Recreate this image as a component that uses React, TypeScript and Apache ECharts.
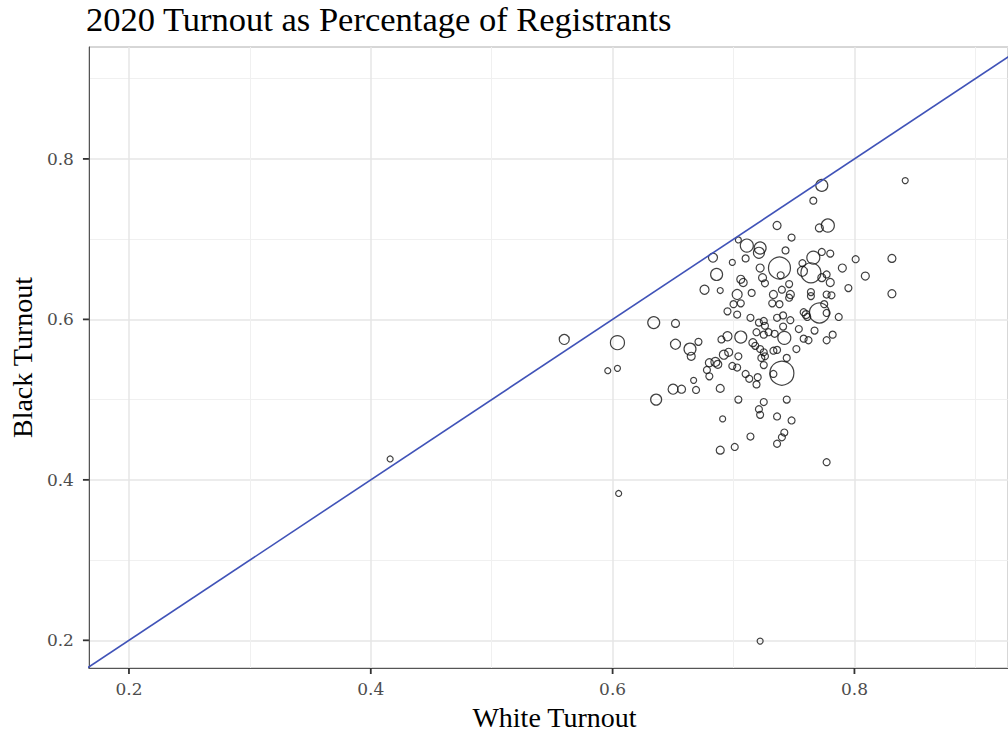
import React, { useEffect, useRef } from "react";
import * as echarts from "echarts";

const titleText = "2020 Turnout as Percentage of Registrants";
const xName = "White Turnout";
const yName = "Black Turnout";
const tickValues = [0.2, 0.4, 0.6, 0.8];

// White turnout, Black turnout, registrants (relative weight for bubble size)
const whiteTurnout = [
  0.416, 0.560, 0.604, 0.596, 0.604, 0.605, 0.634, 0.652, 0.652, 0.664,
  0.671, 0.665, 0.667, 0.650, 0.657, 0.669, 0.636, 0.691, 0.689, 0.701,
  0.689, 0.680, 0.678, 0.680, 0.685, 0.687, 0.692, 0.696, 0.690, 0.695,
  0.699, 0.703, 0.704, 0.695, 0.700, 0.703, 0.773, 0.842, 0.766, 0.736,
  0.771, 0.778, 0.748, 0.704, 0.711, 0.722, 0.721, 0.743, 0.710, 0.699,
  0.738, 0.739, 0.766, 0.773, 0.780, 0.722, 0.724, 0.757, 0.764, 0.757,
  0.773, 0.777, 0.780, 0.790, 0.801, 0.809, 0.795, 0.831, 0.831, 0.706,
  0.708, 0.726, 0.715, 0.703, 0.733, 0.740, 0.746, 0.747, 0.746, 0.764,
  0.764, 0.777, 0.781, 0.771, 0.775, 0.732, 0.738, 0.706, 0.777, 0.760,
  0.758, 0.761, 0.787, 0.714, 0.721, 0.725, 0.726, 0.736, 0.741, 0.747,
  0.741, 0.706, 0.719, 0.725, 0.729, 0.734, 0.742, 0.754, 0.758, 0.762,
  0.767, 0.777, 0.782, 0.716, 0.718, 0.722, 0.725, 0.726, 0.723, 0.733,
  0.736, 0.752, 0.744, 0.725, 0.740, 0.733, 0.710, 0.713, 0.720, 0.719,
  0.704, 0.725, 0.721, 0.722, 0.736, 0.744, 0.748, 0.714, 0.742, 0.740,
  0.736, 0.777, 0.722, 0.683, 0.686, 0.676, 0.689,
];
const blackTurnout = [
  0.426, 0.575, 0.571, 0.536, 0.539, 0.383, 0.596, 0.595, 0.569, 0.563,
  0.572, 0.554, 0.524, 0.513, 0.513, 0.512, 0.500, 0.476, 0.437, 0.441,
  0.514, 0.529, 0.537, 0.546, 0.547, 0.544, 0.556, 0.559, 0.575, 0.579,
  0.542, 0.540, 0.554, 0.610, 0.619, 0.606, 0.767, 0.773, 0.748, 0.717,
  0.714, 0.717, 0.702, 0.699, 0.692, 0.689, 0.683, 0.686, 0.676, 0.671,
  0.664, 0.655, 0.677, 0.684, 0.682, 0.664, 0.652, 0.670, 0.658, 0.660,
  0.652, 0.656, 0.646, 0.664, 0.675, 0.654, 0.639, 0.676, 0.632, 0.650,
  0.646, 0.645, 0.633, 0.631, 0.631, 0.637, 0.644, 0.631, 0.627, 0.634,
  0.629, 0.631, 0.630, 0.608, 0.619, 0.620, 0.619, 0.620, 0.608, 0.606,
  0.609, 0.603, 0.603, 0.602, 0.596, 0.598, 0.592, 0.602, 0.605, 0.599,
  0.591, 0.578, 0.584, 0.581, 0.584, 0.582, 0.577, 0.588, 0.576, 0.574,
  0.586, 0.574, 0.581, 0.571, 0.567, 0.563, 0.559, 0.554, 0.552, 0.561,
  0.562, 0.563, 0.552, 0.543, 0.533, 0.532, 0.532, 0.526, 0.528, 0.519,
  0.500, 0.497, 0.488, 0.481, 0.479, 0.500, 0.474, 0.454, 0.459, 0.453,
  0.445, 0.422, 0.199, 0.677, 0.656, 0.637, 0.636,
];
const registrants = [
  14, 39, 77, 14, 14, 14, 56, 25, 39, 56,
  19, 25, 14, 39, 25, 19, 47, 14, 25, 19,
  25, 19, 19, 25, 32, 25, 32, 25, 19, 32,
  19, 19, 19, 19, 19, 19, 56, 14, 19, 25,
  25, 66, 19, 14, 66, 56, 47, 19, 19, 14,
  189, 19, 66, 19, 19, 25, 25, 19, 156, 39,
  25, 19, 25, 25, 19, 25, 19, 25, 25, 25,
  25, 19, 19, 39, 25, 19, 19, 25, 19, 19,
  19, 19, 19, 156, 19, 19, 19, 19, 19, 25,
  19, 19, 19, 19, 19, 19, 19, 19, 19, 19,
  19, 56, 19, 19, 19, 19, 66, 19, 19, 19,
  19, 19, 19, 25, 19, 19, 19, 19, 19, 19,
  19, 19, 19, 19, 225, 19, 19, 19, 19, 19,
  19, 19, 19, 19, 19, 19, 19, 19, 19, 19,
  19, 19, 14, 32, 56, 32, 14,
];
const parityLine = [[0, 0], [1, 1]];

const X_MIN = 0.1669;
const X_MAX = 0.927;
const Y_MIN = 0.1655;
const Y_MAX = 0.9395;

export default function App() {
  const ref = useRef<HTMLDivElement>(null);
  useEffect(() => {
    if (!ref.current) return;
    const chart = echarts.init(ref.current, null, { renderer: "svg" });
    const n = Math.min(whiteTurnout.length, blackTurnout.length, registrants.length);
    const points = [];
    for (let i = 0; i < n; i++) points.push([whiteTurnout[i], blackTurnout[i], registrants[i]]);

    const labelStyle = {
      fontFamily: "DejaVu Serif",
      fontSize: 17,
      color: "#4d4d4d",
    };
    const nameStyle = {
      fontFamily: "Liberation Serif",
      fontSize: 28,
      color: "#000",
    };
    const common = {
      type: "value" as const,
      minInterval: 0.2,
      maxInterval: 0.2,
      axisLine: { show: true, lineStyle: { color: "#555", width: 1 } },
      axisTick: { show: false },
      minorTick: { show: false, splitNumber: 2 },
      splitLine: { show: true, lineStyle: { color: "#e6e6e6", width: 1.5 } },
      minorSplitLine: { show: true, lineStyle: { color: "#f0f0f0", width: 1 } },
    };
    const fmt = (v: number) => String(Math.round(v * 10) / 10);
    const tickStyle = { stroke: "#333", lineWidth: 1.8 };

    chart.setOption({
      animation: false,
      backgroundColor: "#fff",
      title: {
        text: titleText,
        left: 86,
        top: 1,
        padding: 0,
        textStyle: { fontFamily: "Liberation Serif", fontSize: 34.5, fontWeight: "normal", color: "#000" },
      },
      grid: {
        left: 88,
        right: 0,
        top: 47,
        bottom: 66,
        show: true,
        borderColor: "#555",
        borderWidth: 1,
        backgroundColor: "transparent",
      },
      xAxis: {
        ...common,
        min: X_MIN,
        max: X_MAX,
        name: xName,
        nameLocation: "middle",
        nameGap: 35,
        nameTextStyle: { ...nameStyle, padding: [0, 0, 0, 12] },
        axisLabel: {
          ...labelStyle,
          margin: 12,
          customValues: tickValues,
          formatter: fmt,
        },
      },
      yAxis: {
        ...common,
        min: Y_MIN,
        max: Y_MAX,
        name: yName,
        nameLocation: "middle",
        nameGap: 50,
        nameTextStyle: nameStyle,
        axisLabel: {
          ...labelStyle,
          margin: 15,
          customValues: tickValues,
          formatter: fmt,
        },
      },
      series: [
        {
          type: "scatter",
          data: points,
          symbol: "circle",
          symbolSize: (v: number[]) => 1.6 * Math.sqrt(v[2]),
          itemStyle: { color: "transparent", borderColor: "#111", borderWidth: 1.2 },
          silent: true,
          z: 3,
        },
        {
          type: "line",
          data: parityLine,
          symbol: "none",
          clip: true,
          silent: true,
          lineStyle: { color: "#4053b8", width: 1.6 },
          z: 4,
        },
        {
          type: "custom",
          silent: true,
          clip: false,
          z: 5,
          data: tickValues.map((v) => [v, Y_MIN]),
          renderItem: (_p: any, api: any) => {
            const c = api.coord([api.value(0), api.value(1)]);
            return {
              type: "line",
              shape: { x1: c[0], y1: c[1], x2: c[0], y2: c[1] + 6 },
              style: tickStyle,
            };
          },
        },
        {
          type: "custom",
          silent: true,
          clip: false,
          z: 5,
          data: tickValues.map((v) => [X_MIN, v]),
          renderItem: (_p: any, api: any) => {
            const c = api.coord([api.value(0), api.value(1)]);
            return {
              type: "line",
              shape: { x1: c[0] - 6, y1: c[1], x2: c[0], y2: c[1] },
              style: tickStyle,
            };
          },
        },
      ],
    });
    return () => chart.dispose();
  }, []);
  return (
    <div
      ref={ref}
      style={{ position: "absolute", left: 0, top: 0, width: 1008, height: 736 }}
    />
  );
}
